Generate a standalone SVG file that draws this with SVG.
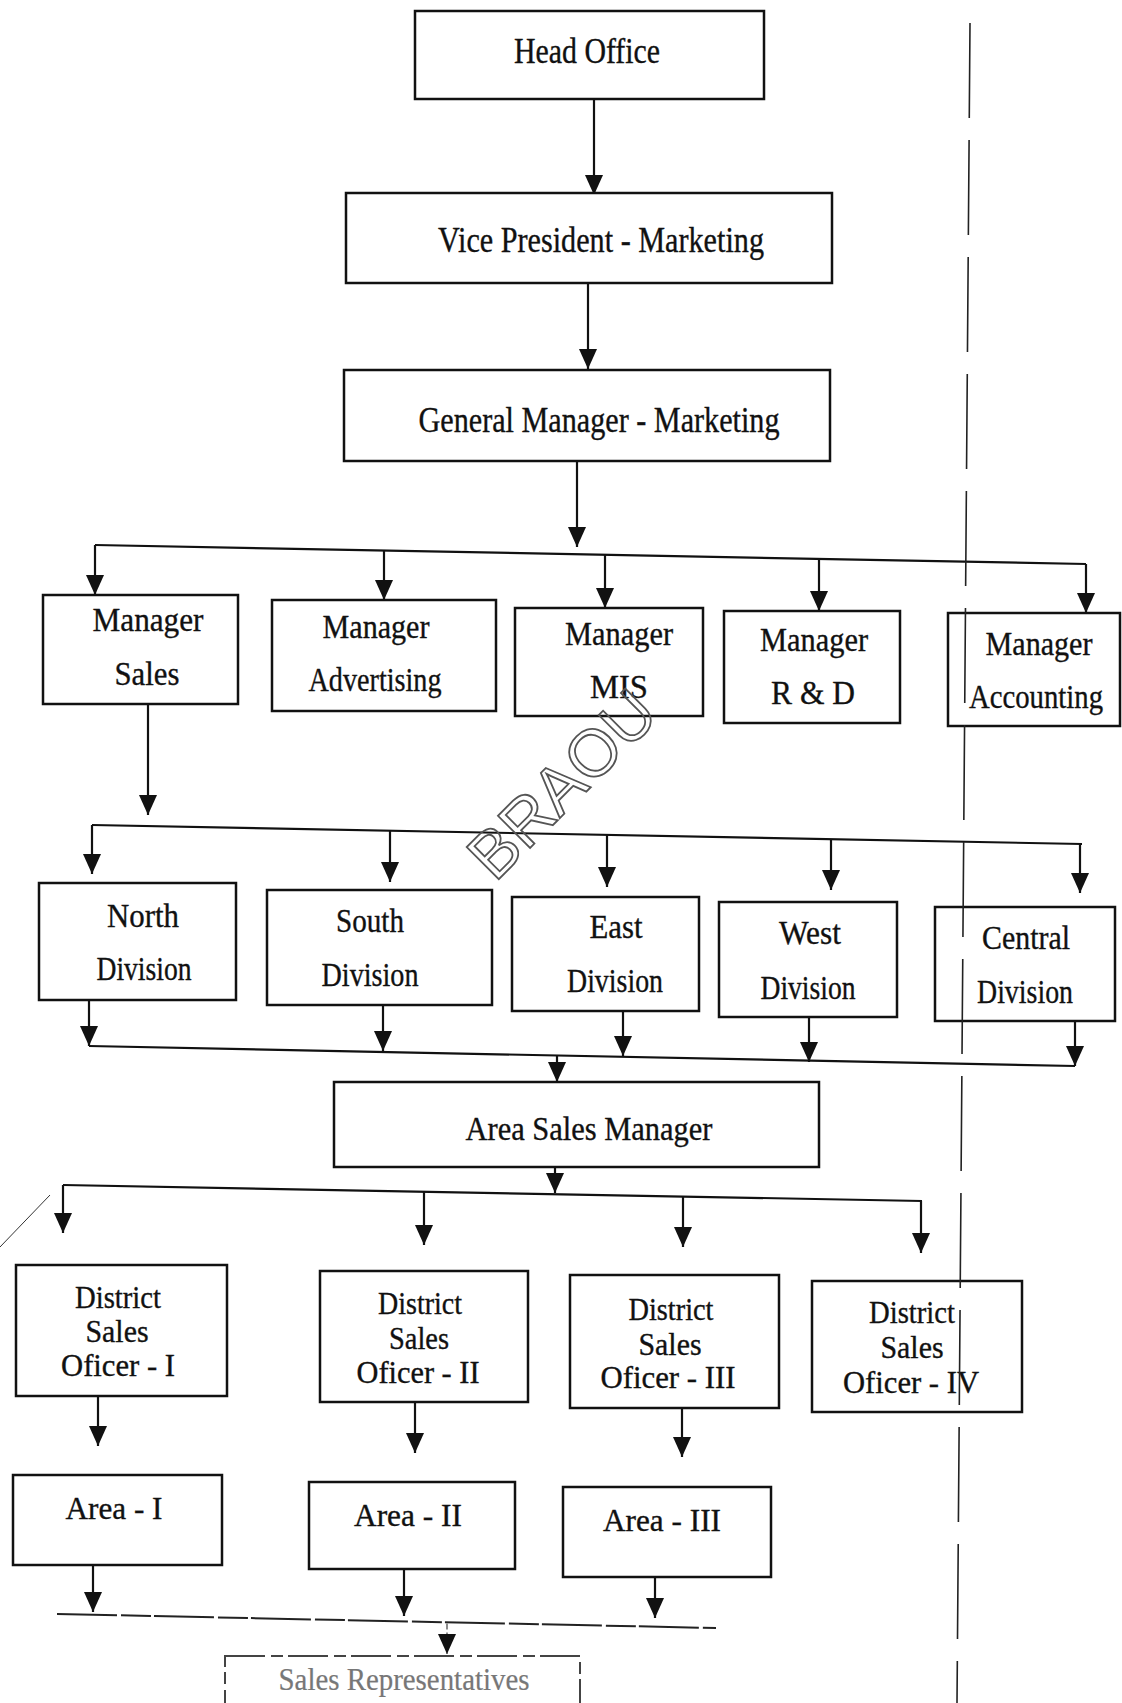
<svg xmlns="http://www.w3.org/2000/svg" width="1122" height="1703" viewBox="0 0 1122 1703">
<style>
.box{fill:#fff;stroke:#111;stroke-width:2.5}
.t{font-family:"Liberation Serif","Times New Roman",serif;fill:#111;text-anchor:middle;stroke:#111;stroke-width:0.35}
.t34{font-size:35px}
.t33{font-size:34px}
.t30{font-size:31px}
.ln{fill:none;stroke:#111;stroke-width:2.2}
.arr{fill:none;stroke:#111;stroke-width:2.2;marker-end:url(#ah)}
</style>
<defs>
<marker id="ah" markerUnits="userSpaceOnUse" viewBox="0 0 20 18" refX="20" refY="9" markerWidth="20" markerHeight="18" orient="auto">
<path d="M0,0 L20,9 L0,18 Z" fill="#111"/>
</marker>
</defs>
<rect width="1122" height="1703" fill="#fff"/>

<g id="connectors">
<path class="arr" d="M594,99 V195"/>
<path class="arr" d="M588,283 V369"/>
<path class="arr" d="M577,461 V547"/>
<path class="ln" d="M95,545 L1086,564"/>
<path class="arr" d="M95,545 V595"/>
<path class="arr" d="M384,550.5 V600"/>
<path class="arr" d="M605,555 V608"/>
<path class="arr" d="M819,559 V611"/>
<path class="arr" d="M1086,564 V613"/>

<path class="arr" d="M148,704 V815"/>
<path class="ln" d="M92,825 L1082,844"/>
<path class="arr" d="M92,825 V874"/>
<path class="arr" d="M390,830.7 V882"/>
<path class="arr" d="M607,835 V887"/>
<path class="arr" d="M831,839 V890"/>
<path class="arr" d="M1080,843.8 V893"/>

<path class="arr" d="M89,1000 V1046"/>
<path class="arr" d="M383,1005 V1051"/>
<path class="arr" d="M623,1011 V1056"/>
<path class="arr" d="M809,1017 V1062"/>
<path class="arr" d="M1075,1021 V1066"/>
<path class="ln" d="M89,1046 L1075,1066"/>
<path class="arr" d="M557,1055.5 V1082"/>

<path class="arr" d="M555,1167 V1193"/>
<path class="ln" d="M63,1185 L922,1201"/>
<path class="arr" d="M63,1185 V1233"/>
<path class="arr" d="M424,1191.7 V1245"/>
<path class="arr" d="M683,1196.5 V1247"/>
<path class="arr" d="M921,1201 V1253"/>

<path class="arr" d="M98,1396 V1446"/>
<path class="arr" d="M415,1402 V1453"/>
<path class="arr" d="M682,1408 V1457"/>

<path class="arr" d="M93,1565 V1612"/>
<path class="arr" d="M404,1569 V1616"/>
<path class="arr" d="M655,1577 V1618"/>
<path d="M57,1614 L716,1628" fill="none" stroke="#222" stroke-width="2" stroke-dasharray="60,4,30,3"/>
<path d="M447,1623.6 V1654" fill="none" stroke="#666" stroke-width="1.5" stroke-dasharray="6,3" marker-end="url(#ah)"/>
</g>

<g id="n-head-office">
<rect class="box" x="415" y="11" width="349" height="88"/>
<text class="t t34" x="587" y="63" textLength="146" lengthAdjust="spacingAndGlyphs">Head Office</text>
</g>
<g id="n-vp-marketing">
<rect class="box" x="346" y="193" width="486" height="90"/>
<text class="t t34" x="601" y="252" textLength="326" lengthAdjust="spacingAndGlyphs">Vice President - Marketing</text>
</g>
<g id="n-gm-marketing">
<rect class="box" x="344" y="370" width="486" height="91"/>
<text class="t t34" x="599" y="432" textLength="361" lengthAdjust="spacingAndGlyphs">General Manager - Marketing</text>
</g>

<g id="n-manager-sales">
<rect class="box" x="43" y="595" width="195" height="109"/>
<text class="t t33" x="148" y="631" textLength="111" lengthAdjust="spacingAndGlyphs">Manager</text>
<text class="t t33" x="147" y="685" textLength="65" lengthAdjust="spacingAndGlyphs">Sales</text>
</g>
<g id="n-manager-advertising">
<rect class="box" x="272" y="600" width="224" height="111"/>
<text class="t t33" x="376" y="638" textLength="107" lengthAdjust="spacingAndGlyphs">Manager</text>
<text class="t t33" x="375" y="691" textLength="133" lengthAdjust="spacingAndGlyphs">Advertising</text>
</g>
<g id="n-manager-mis">
<rect class="box" x="515" y="608" width="188" height="108"/>
<text class="t t33" x="619" y="645" textLength="108" lengthAdjust="spacingAndGlyphs">Manager</text>
<text class="t t33" x="619" y="698" textLength="58" lengthAdjust="spacingAndGlyphs">MIS</text>
</g>
<g id="n-manager-rd">
<rect class="box" x="724" y="611" width="176" height="112"/>
<text class="t t33" x="814" y="651" textLength="108" lengthAdjust="spacingAndGlyphs">Manager</text>
<text class="t t33" x="813" y="704" textLength="84" lengthAdjust="spacingAndGlyphs">R &amp; D</text>
</g>
<g id="n-manager-accounting">
<rect class="box" x="948" y="613" width="172" height="113"/>
<text class="t t33" x="1039" y="655" textLength="107" lengthAdjust="spacingAndGlyphs">Manager</text>
<text class="t t33" x="1036" y="708" textLength="134" lengthAdjust="spacingAndGlyphs">Accounting</text>
</g>

<g id="n-north">
<rect class="box" x="39" y="883" width="197" height="117"/>
<text class="t t33" x="143" y="927" textLength="72" lengthAdjust="spacingAndGlyphs">North</text>
<text class="t t33" x="144" y="980" textLength="95" lengthAdjust="spacingAndGlyphs">Division</text>
</g>
<g id="n-south">
<rect class="box" x="267" y="890" width="225" height="115"/>
<text class="t t33" x="370" y="932" textLength="68" lengthAdjust="spacingAndGlyphs">South</text>
<text class="t t33" x="370" y="986" textLength="97" lengthAdjust="spacingAndGlyphs">Division</text>
</g>
<g id="n-east">
<rect class="box" x="512" y="897" width="187" height="114"/>
<text class="t t33" x="616" y="938" textLength="53" lengthAdjust="spacingAndGlyphs">East</text>
<text class="t t33" x="615" y="992" textLength="96" lengthAdjust="spacingAndGlyphs">Division</text>
</g>
<g id="n-west">
<rect class="box" x="719" y="902" width="178" height="115"/>
<text class="t t33" x="810" y="944" textLength="62" lengthAdjust="spacingAndGlyphs">West</text>
<text class="t t33" x="808" y="999" textLength="95" lengthAdjust="spacingAndGlyphs">Division</text>
</g>
<g id="n-central">
<rect class="box" x="935" y="907" width="180" height="114"/>
<text class="t t33" x="1026" y="949" textLength="88" lengthAdjust="spacingAndGlyphs">Central</text>
<text class="t t33" x="1025" y="1003" textLength="96" lengthAdjust="spacingAndGlyphs">Division</text>
</g>

<g id="n-area-sales-manager">
<rect class="box" x="334" y="1082" width="485" height="85"/>
<text class="t t33" x="589" y="1140" textLength="247" lengthAdjust="spacingAndGlyphs">Area Sales Manager</text>
</g>

<g id="n-dso-1">
<rect class="box" x="16" y="1265" width="211" height="131"/>
<text class="t t30" x="118" y="1308" textLength="86" lengthAdjust="spacingAndGlyphs">District</text>
<text class="t t30" x="117" y="1342" textLength="63" lengthAdjust="spacingAndGlyphs">Sales</text>
<text class="t t30" x="118" y="1376" textLength="114" lengthAdjust="spacingAndGlyphs">Oficer - I</text>
</g>
<g id="n-dso-2">
<rect class="box" x="320" y="1271" width="208" height="131"/>
<text class="t t30" x="420" y="1314" textLength="84" lengthAdjust="spacingAndGlyphs">District</text>
<text class="t t30" x="419" y="1349" textLength="60" lengthAdjust="spacingAndGlyphs">Sales</text>
<text class="t t30" x="418" y="1383" textLength="123" lengthAdjust="spacingAndGlyphs">Oficer - II</text>
</g>
<g id="n-dso-3">
<rect class="box" x="570" y="1275" width="209" height="133"/>
<text class="t t30" x="671" y="1320" textLength="85" lengthAdjust="spacingAndGlyphs">District</text>
<text class="t t30" x="670" y="1355" textLength="63" lengthAdjust="spacingAndGlyphs">Sales</text>
<text class="t t30" x="668" y="1388" textLength="135" lengthAdjust="spacingAndGlyphs">Oficer - III</text>
</g>
<g id="n-dso-4">
<rect class="box" x="812" y="1281" width="210" height="131"/>
<text class="t t30" x="912" y="1323" textLength="86" lengthAdjust="spacingAndGlyphs">District</text>
<text class="t t30" x="912" y="1358" textLength="63" lengthAdjust="spacingAndGlyphs">Sales</text>
<text class="t t30" x="911" y="1393" textLength="136" lengthAdjust="spacingAndGlyphs">Oficer - IV</text>
</g>

<g id="n-area-1">
<rect class="box" x="13" y="1475" width="209" height="90"/>
<text class="t t30" x="114" y="1519" textLength="97" lengthAdjust="spacingAndGlyphs">Area - I</text>
</g>
<g id="n-area-2">
<rect class="box" x="309" y="1482" width="206" height="87"/>
<text class="t t30" x="408" y="1526" textLength="108" lengthAdjust="spacingAndGlyphs">Area - II</text>
</g>
<g id="n-area-3">
<rect class="box" x="563" y="1487" width="208" height="90"/>
<text class="t t30" x="662" y="1531" textLength="118" lengthAdjust="spacingAndGlyphs">Area - III</text>
</g>

<g id="n-sales-representatives">
<rect x="225" y="1656" width="355" height="60" fill="#fff" stroke="#444" stroke-width="2" stroke-dasharray="40,6,12,5"/>
<text class="t t30" x="404" y="1690" textLength="251" lengthAdjust="spacingAndGlyphs" style="fill:#777;stroke:#777;stroke-width:0.2">Sales Representatives</text>
</g>

<g id="artifacts">
<line x1="970" y1="23" x2="957" y2="1703" stroke="#222" stroke-width="1.6" stroke-dasharray="95,22"/>
<line x1="0" y1="1247" x2="50" y2="1195" stroke="#333" stroke-width="1"/>
</g>

<g id="watermark">
<text x="578" y="800" transform="rotate(-45 578 800)" font-family="'Liberation Sans',Arial,sans-serif" font-size="66" text-anchor="middle" fill="none" stroke="#555" stroke-width="1.8">BRAOU</text>
</g>
</svg>
